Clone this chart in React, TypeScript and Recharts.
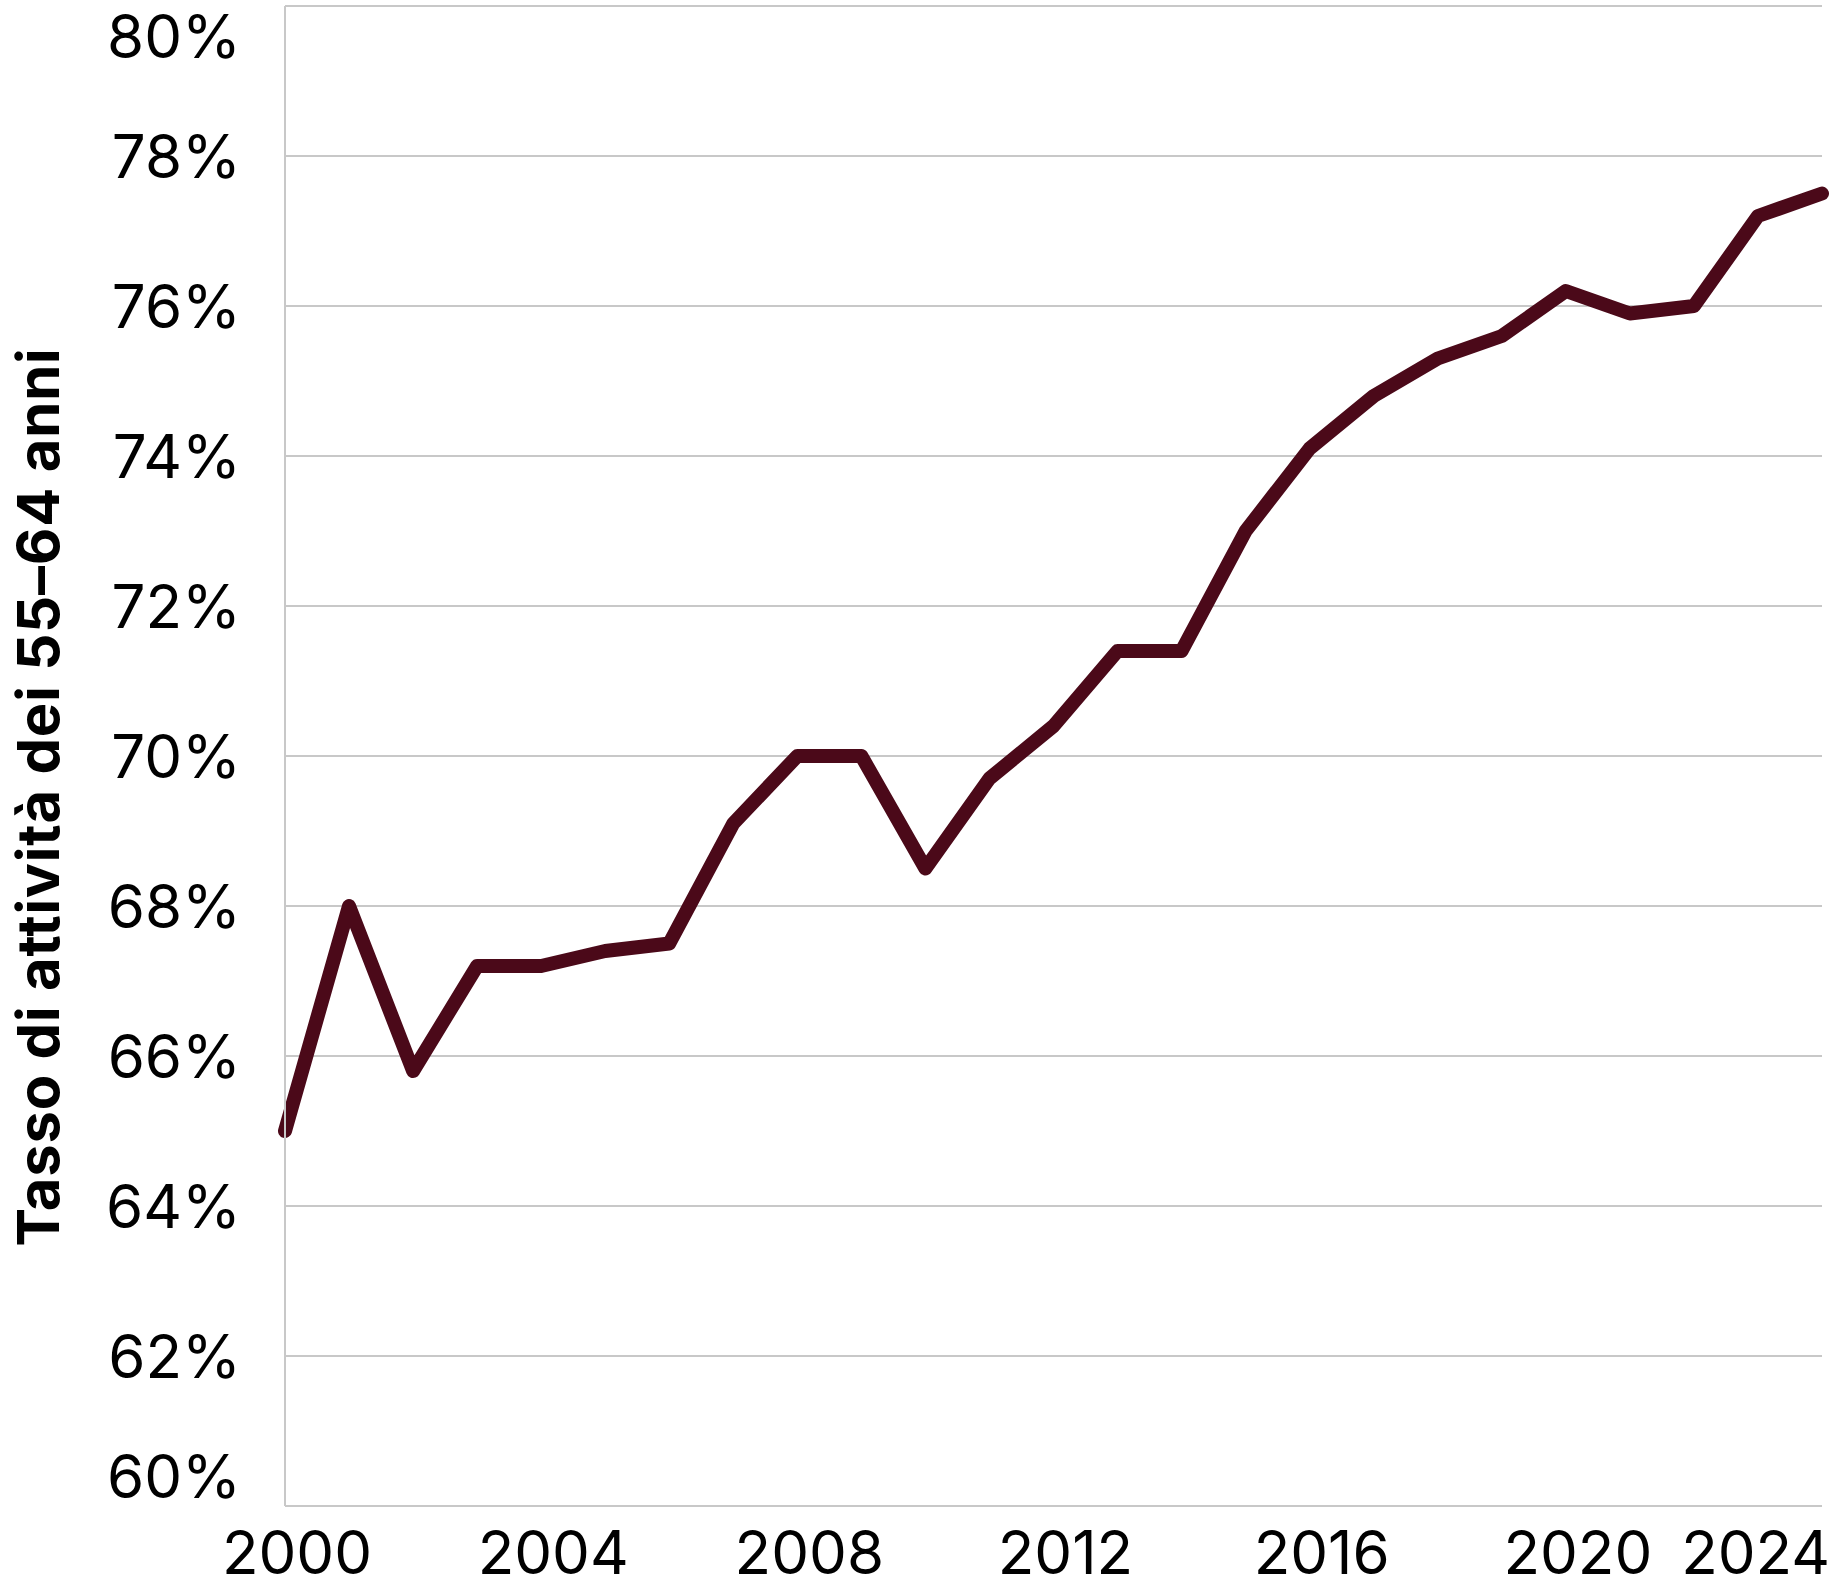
import React from "react";
import { LineChart, Line, XAxis, YAxis, CartesianGrid } from "recharts";

const years = [2000, 2001, 2002, 2003, 2004, 2005, 2006, 2007, 2008, 2009, 2010, 2011, 2012, 2013, 2014, 2015, 2016, 2017, 2018, 2019, 2020, 2021, 2022, 2023, 2024];
const activityRate = [65.0, 68.0, 65.8, 67.2, 67.2, 67.4, 67.5, 69.1, 70.0, 70.0, 68.5, 69.7, 70.4, 71.4, 71.4, 73.0, 74.1, 74.8, 75.3, 75.6, 76.2, 75.9, 76.0, 77.2, 77.5];
const yTicks = [60, 62, 64, 66, 68, 70, 72, 74, 76, 78, 80];
const xTicks = [2000, 2004, 2008, 2012, 2016, 2020, 2024];
const yAxisTitle = "Tasso di attività dei 55–64 anni";

const data = years.map((year, i) => ({ year, value: activityRate[i] }));

const W = 1841;
const H = 1588;
const PLOT_TOP = 6;
const PLOT_LEFT = 285;
const PLOT_RIGHT = 1822;
const PLOT_BOTTOM = 1506;
const FONT = "Inter, 'DejaVu Sans', sans-serif";
const GRID = "#c8c8c8";

const YTick = (props: any) => {
  const { x, y, payload } = props;
  let cy = y;
  cy = Math.max(cy, PLOT_TOP + 30);
  cy = Math.min(cy, PLOT_BOTTOM - 30);
  return (
    <text x={x - 44} y={cy + 22} textAnchor="end" fontFamily={FONT} fontSize={60} fill="#000">
      {`${payload.value}%`}
    </text>
  );
};

const XTick = (props: any) => {
  const { x, y, payload } = props;
  const last = payload.value === xTicks[xTicks.length - 1];
  return (
    <text
      x={last ? x + 8 : x + 12}
      y={y + 68}
      textAnchor={last ? "end" : "middle"}
      fontFamily={FONT}
      fontSize={60}
      fill="#000"
    >
      {payload.value}
    </text>
  );
};

const TitleLabel = () => (
  <text
    x={59}
    y={797}
    transform="rotate(-90 59 797)"
    textAnchor="middle"
    fontFamily={FONT}
    fontWeight={700}
    fontSize={58}
    letterSpacing={0.8}
    fill="#000"
  >
    {yAxisTitle}
  </text>
);

export default function App() {
  return (
    <div style={{ position: "absolute", left: 0, top: 0, width: W, height: H, background: "#fff" }}>
      <LineChart
        width={W}
        height={H}
        data={data}
        margin={{ top: PLOT_TOP, right: W - PLOT_RIGHT, left: 0, bottom: 0 }}
      >
        <CartesianGrid horizontal vertical={false} stroke={GRID} strokeWidth={2} />
        <XAxis
          dataKey="year"
          type="number"
          domain={[2000, 2024]}
          ticks={xTicks}
          height={H - PLOT_BOTTOM}
          tickLine={false}
          tickSize={0}
          tickMargin={0}
          axisLine={{ stroke: GRID, strokeWidth: 2 }}
          tick={<XTick />}
          interval={0}
        />
        <YAxis
          type="number"
          domain={[60, 80]}
          ticks={yTicks}
          width={PLOT_LEFT}
          tickLine={false}
          tickSize={0}
          tickMargin={0}
          axisLine={{ stroke: GRID, strokeWidth: 2 }}
          tick={<YTick />}
          interval={0}
          label={{ content: () => <TitleLabel /> }}
        />
        <Line
          type="linear"
          dataKey="value"
          stroke="#4b0919"
          strokeWidth={14}
          strokeLinecap="round"
          strokeLinejoin="round"
          dot={false}
          activeDot={false}
          isAnimationActive={false}
        />
      </LineChart>
    </div>
  );
}
